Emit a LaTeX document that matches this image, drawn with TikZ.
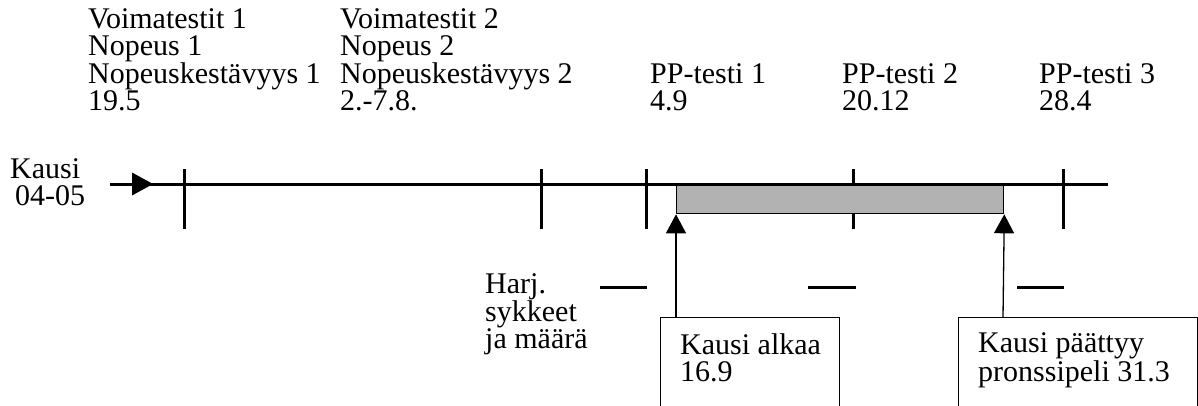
\documentclass[tikz,border=0pt]{standalone}
\usepackage{fontspec}
\setmainfont{Liberation Serif}
\usetikzlibrary{arrows.meta}
\begin{document}
\begin{tikzpicture}[x=1pt,y=-1pt,
  % base anchor of a multi-line label sits on its last line
  lbl/.style={anchor=base west, inner sep=0pt, align=left,
    font=\fontsize{30}{26.5}\selectfont},
  axisline/.style={line width=3pt},
  tickmark/.style={line width=3pt},
  dashmark/.style={line width=3pt},
  season/.style={draw=black, line width=1.3pt, fill=black!30},
  infobox/.style={draw=black, line width=1.3pt},
  pointer/.style={line width=1.3pt, -{Triangle[length=19pt,width=20pt]}}]
\useasboundingbox (0,0) rectangle (1198,405);

% season axis
\coordinate (axisstart) at (110,184);
\coordinate (axisend) at (1108,184);

% ticks
\foreach \x in {184,541,646,853,1063}
  \draw[tickmark] (\x,169) -- (\x,229);

% season bar and axis on top of it
\node[season, anchor=north west, minimum width=327pt, minimum height=29pt, inner sep=0pt]
  (bar) at (676,184) {};
\draw[axisline] (axisstart) -- (axisend);
\fill (132,172.5) -- (153,184) -- (132,195.5) -- cycle;

% texts above the axis
\node[lbl] (t1) at (88,110) {Voimatestit 1\\Nopeus 1\\Nopeuskestävyys 1\\19.5};
\node[lbl] (t2) at (340,110) {Voimatestit 2\\Nopeus 2\\Nopeuskestävyys 2\\2.-7.8.};
\node[lbl] (p1) at (650,110) {PP-testi 1\\4.9};
\node[lbl] (p2) at (842,110) {PP-testi 2\\20.12};
\node[lbl] (p3) at (1039,110) {PP-testi 3\\28.4};
\node[lbl] (kausi) at (10,205) {Kausi\\\hspace*{5pt}04-05};

% training heart rates
\node[lbl] (harj) at (485,348) {Harj.\\sykkeet\\ja määrä};
\draw[dashmark] (600,287) -- (647,287);
\draw[dashmark] (808,287) -- (856,287);
\draw[dashmark] (1017,287) -- (1064,287);

% start and end boxes
\node[infobox, anchor=north west, minimum width=179pt, minimum height=100pt, inner sep=0pt]
  (startbox) at (660,317) {};
\node[infobox, anchor=north west, minimum width=239pt, minimum height=100pt, inner sep=0pt]
  (endbox) at (958,317) {};
\coordinate (starttop) at (676,317);
\coordinate (endtop) at (1003,317);
\node[lbl] (alku) at (680,381) {Kausi alkaa\\16.9};
\node[lbl] (loppu) at (978,381) {Kausi päättyy\\pronssipeli 31.3};
\draw[pointer] (starttop) -- (bar.south west);
\draw[pointer] (endtop) -- (bar.south east);
\end{tikzpicture}
\end{document}
